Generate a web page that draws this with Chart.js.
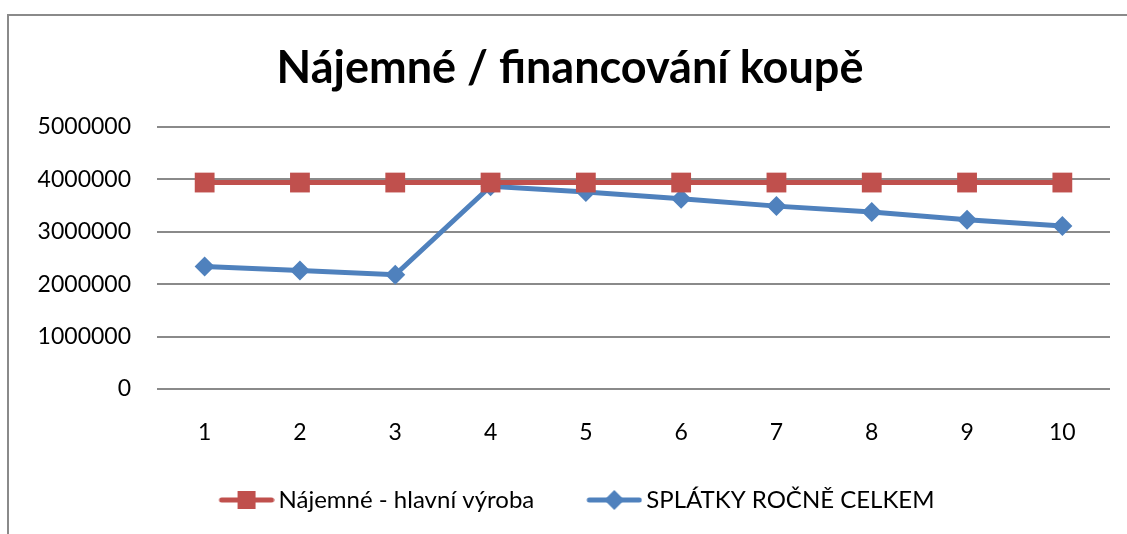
<!DOCTYPE html>
<html>
<head>
<meta charset="utf-8">
<script src="https://cdn.jsdelivr.net/npm/chart.js@4"></script>
<style>
    html, body { margin: 0; padding: 0; background: #fff; overflow: hidden; }
    #frame {
        position: absolute; left: 7px; top: 14px; width: 1200px; height: 600px;
        border-left: 2px solid #8a8a8a; border-top: 2px solid #8a8a8a;
    }
    #wrap { position: absolute; left: 0; top: 0; width: 1127px; height: 534px; }
</style>
</head>
<body>
<div id="frame"></div>
<div id="wrap"><canvas id="chart"></canvas></div>
<script>
// data
const roky = ['1', '2', '3', '4', '5', '6', '7', '8', '9', '10'];
const najemne = [3940000, 3940000, 3940000, 3940000, 3940000, 3940000, 3940000, 3940000, 3940000, 3940000];
const splatky = [2340000, 2260000, 2180000, 3870000, 3760000, 3630000, 3490000, 3380000, 3230000, 3110000];
const yTicks = [0, 1000000, 2000000, 3000000, 4000000, 5000000];

const RED = '#C0504D';
const BLUE = '#4F81BD';
const FONT = 'Lato, "Open Sans", sans-serif';

// legend icon: line with marker in the middle (excel style)
// canvas is 77 wide, icon is drawn in the right 56px, left part is blank spacing
function legendIcon(color, shape) {
    const c = document.createElement('canvas');
    c.width = 77;
    c.height = 22;
    const g = c.getContext('2d');
    const ox = 21;
    g.strokeStyle = color;
    g.lineWidth = 5;
    g.lineCap = 'round';
    g.beginPath();
    g.moveTo(ox + 3, 11);
    g.lineTo(ox + 53, 11);
    g.stroke();
    g.fillStyle = color;
    if (shape === 'rect') {
        g.fillRect(ox + 19, 2, 18, 18);
    } else {
        g.beginPath();
        g.moveTo(ox + 28, 1);
        g.lineTo(ox + 38, 11);
        g.lineTo(ox + 28, 21);
        g.lineTo(ox + 18, 11);
        g.closePath();
        g.fill();
    }
    return c;
}

window.onload = function() {
    const ctx = document.getElementById('chart').getContext('2d');
    new Chart(ctx, {
        type: 'line',
        data: {
            labels: roky,
            datasets: [{
                label: 'Nájemné - hlavní výroba',
                data: najemne,
                borderColor: RED,
                backgroundColor: RED,
                borderWidth: 5,
                pointStyle: 'rect',
                pointRadius: 14,
                pointBorderWidth: 0,
                legendIcon: legendIcon(RED, 'rect')
            }, {
                label: 'SPLÁTKY ROČNĚ CELKEM',
                data: splatky,
                borderColor: BLUE,
                backgroundColor: BLUE,
                borderWidth: 5,
                pointStyle: 'rectRot',
                pointRadius: 10,
                pointBorderWidth: 0,
                legendIcon: legendIcon(BLUE, 'diamond')
            }]
        },
        options: {
            responsive: true,
            maintainAspectRatio: false,
            animation: false,
            layout: { padding: { left: 30, right: 17, top: 0, bottom: 12 } },
            plugins: {
                title: {
                    display: true,
                    text: 'Nájemné / financování koupě',
                    color: '#000',
                    font: { family: FONT, size: 45, weight: 'bold' },
                    padding: { top: 41, bottom: 32 }
                },
                legend: {
                    position: 'bottom',
                    labels: {
                        color: '#000',
                        font: { family: FONT, size: 24 },
                        usePointStyle: true,
                        pointStyleWidth: 61,
                        padding: 39,
                        generateLabels: function(chart) {
                            return chart.data.datasets.map((ds, i) => ({
                                text: ds.label,
                                pointStyle: ds.legendIcon,
                                fillStyle: ds.borderColor,
                                strokeStyle: ds.borderColor,
                                lineWidth: 0,
                                fontColor: '#000',
                                datasetIndex: i
                            }));
                        }
                    }
                },
                tooltip: { enabled: false }
            },
            scales: {
                x: {
                    offset: true,
                    border: { display: false },
                    grid: { display: false, drawTicks: false },
                    afterFit: function(scale) {
                        scale.height = 60;
                    },
                    ticks: {
                        color: '#000',
                        font: { family: FONT, size: 23 },
                        padding: 30
                    }
                },
                y: {
                    min: 0,
                    max: 5000000,
                    border: { display: false },
                    grid: { color: '#8a8a8a', lineWidth: 2, drawTicks: false },
                    afterBuildTicks: function(scale) {
                        scale.ticks = yTicks.map(v => ({ value: v }));
                    },
                    afterFit: function(scale) {
                        scale.width = 127;
                    },
                    ticks: {
                        color: '#000',
                        font: { family: FONT, size: 23 },
                        padding: 26,
                        callback: v => String(v)
                    }
                }
            }
        }
    });
};
</script>
</body>
</html>
